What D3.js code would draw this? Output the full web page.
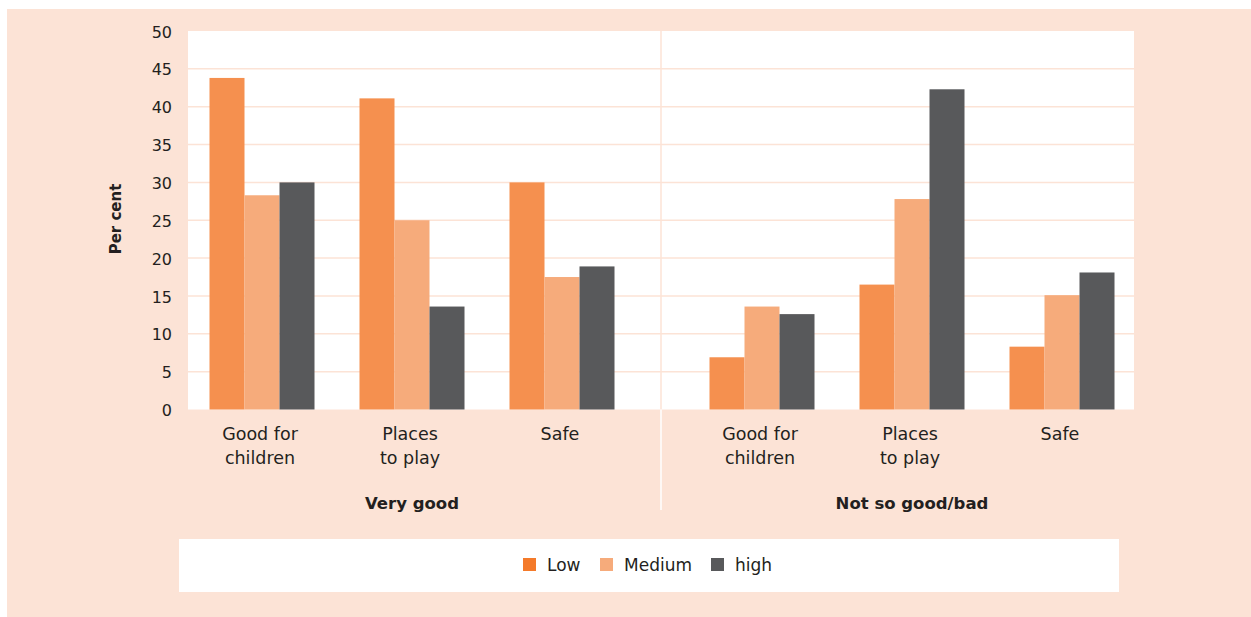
<!DOCTYPE html>
<html>
<head>
<meta charset="utf-8">
<script src="https://cdn.jsdelivr.net/npm/d3@7"></script>
<style>
  html, body { margin: 0; padding: 0; background: #ffffff; }
  svg { display: block; }
  text { font-family: "DejaVu Sans", sans-serif; fill: #231F20; }
</style>
</head>
<body>
<svg id="chart" width="1251" height="617"></svg>
<script>
// Ratings of the neighbourhood, by income level (per cent)
const groups = ["Very good", "Not so good/bad"];
const categories = [["Good for", "children"], ["Places", "to play"], ["Safe"]];
const series = ["Low", "Medium", "high"];
const lowValues    = [43.8, 41.1, 30.0, 6.9, 16.5, 8.3];
const mediumValues = [28.3, 25.0, 17.5, 13.6, 27.8, 15.1];
const highValues   = [30.0, 13.6, 18.9, 12.6, 42.3, 18.1];
const yTicks = [0, 5, 10, 15, 20, 25, 30, 35, 40, 45, 50];

const barColors = { "Low": "#F5904F", "Medium": "#F6AB7B", "high": "#58595B" };
const legendColors = { "Low": "#F47A2A", "Medium": "#F6AB7B", "high": "#58595B" };
const pink = "#FCE3D6";

const svg = d3.select("#chart");

// panel background
svg.append("rect").attr("x", 7).attr("y", 9).attr("width", 1244).attr("height", 608).attr("fill", pink);

const plot = { left: 188, right: 1134, top: 31, bottom: 409.5 };

// plot area
svg.append("rect")
  .attr("x", plot.left).attr("y", plot.top)
  .attr("width", plot.right - plot.left).attr("height", plot.bottom - plot.top)
  .attr("fill", "#ffffff");

const y = d3.scaleLinear().domain([0, 50]).range([plot.bottom, plot.top]);

// two category groups, each split into three category slots
const xGroup = d3.scaleBand().domain(groups).range([187, 1137]).paddingInner(0.1).paddingOuter(0);
const catKeys = categories.map(c => c.join(" "));
const xCat = d3.scaleBand().domain(catKeys).range([0, xGroup.bandwidth()]).padding(0);
const slot = xCat.bandwidth();
const clusterW = 105;
const xSeries = d3.scaleBand().domain(series).range([slot / 2 - clusterW / 2, slot / 2 + clusterW / 2]).padding(0);

// gridlines
svg.append("g").selectAll("line")
  .data(yTicks.filter(t => t > 0 && t < 50))
  .join("line")
  .attr("x1", plot.left).attr("x2", plot.right)
  .attr("y1", d => y(d)).attr("y2", d => y(d))
  .attr("stroke", pink).attr("stroke-width", 1.5);

// y axis labels
const yAxis = d3.axisLeft(y).tickValues(yTicks).tickSize(0).tickPadding(16);
const yg = svg.append("g").attr("transform", `translate(${plot.left},1)`).call(yAxis);
yg.select(".domain").remove();
yg.selectAll("text").style("font-size", "16px").style("font-family", "DejaVu Sans, sans-serif").attr("fill", "#231F20");

// divider between the two groups
const divX = (xGroup(groups[0]) + xGroup.bandwidth() + xGroup(groups[1])) / 2 - 1;
svg.append("line").attr("x1", divX).attr("x2", divX).attr("y1", plot.top).attr("y2", plot.bottom)
  .attr("stroke", pink).attr("stroke-width", 1.5);
svg.append("line").attr("x1", divX).attr("x2", divX).attr("y1", plot.bottom).attr("y2", 510)
  .attr("stroke", "#ffffff").attr("stroke-width", 1.5);

// bar records
const valuesBySeries = { "Low": lowValues, "Medium": mediumValues, "high": highValues };
const records = [];
groups.forEach((g, gi) => {
  catKeys.forEach((c, ci) => {
    series.forEach(s => {
      records.push({ group: g, cat: c, series: s, value: valuesBySeries[s][gi * catKeys.length + ci] });
    });
  });
});

svg.append("g").selectAll("rect")
  .data(records)
  .join("rect")
  .attr("x", d => xGroup(d.group) + xCat(d.cat) + xSeries(d.series))
  .attr("width", xSeries.bandwidth())
  .attr("y", d => y(d.value))
  .attr("height", d => y(0) - y(d.value))
  .attr("fill", d => barColors[d.series]);

// category labels
groups.forEach(g => {
  categories.forEach((lines, ci) => {
    const cx = xGroup(g) + xCat(catKeys[ci]) + slot / 2 - 2;
    const t = svg.append("text").attr("text-anchor", "middle").style("font-size", "17.5px");
    lines.forEach((ln, li) => {
      t.append("tspan").attr("x", cx).attr("y", 440 + li * 23.5).text(ln);
    });
  });
  svg.append("text")
    .attr("x", xGroup(g) + xGroup.bandwidth() / 2)
    .attr("y", 509)
    .attr("text-anchor", "middle")
    .style("font-size", "16.5px").style("font-weight", "bold")
    .text(g);
});

// y axis title
svg.append("text")
  .attr("transform", "translate(121,219) rotate(-90)")
  .attr("text-anchor", "middle")
  .style("font-size", "15px").style("font-weight", "bold")
  .text("Per cent");

// legend
svg.append("rect").attr("x", 179).attr("y", 539).attr("width", 940).attr("height", 53).attr("fill", "#ffffff");
const legendX = [523, 600, 711];
const lg = svg.append("g").selectAll("g").data(series).join("g")
  .attr("transform", (d, i) => `translate(${legendX[i]},558)`);
lg.append("rect").attr("width", 13).attr("height", 13).attr("fill", d => legendColors[d]);
lg.append("text").attr("x", 24).attr("y", 12.5).style("font-size", "17px").text(d => d);
</script>
</body>
</html>
